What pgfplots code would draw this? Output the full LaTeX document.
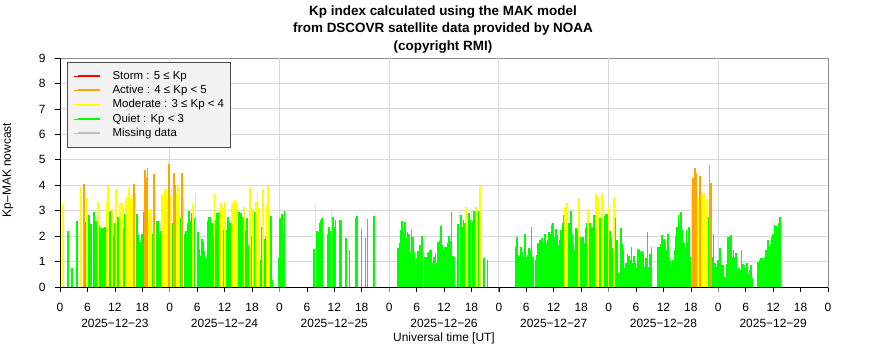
\documentclass[border=0pt]{standalone}
\usepackage{fontspec}
\setmainfont{Liberation Sans}
\usepackage{pgfplots}
\usepackage{pgfplotstable}
\pgfplotsset{compat=1.18}
\definecolor{kgreen}{RGB}{0,255,0}
\definecolor{kyellow}{RGB}{255,255,0}
\definecolor{korange}{RGB}{255,165,0}
\definecolor{kred}{RGB}{255,0,0}
\definecolor{kgray}{RGB}{190,190,190}
\definecolor{gridc}{RGB}{217,217,217}
\definecolor{boxc}{RGB}{140,140,140}
\definecolor{legfill}{RGB}{242,242,242}
\pgfplotstableread{
h v
0.66 3.25
1.75 2.2
2.6 0.75
3.7 2.6
4.65 3.92
5.3 4.05
5.6 2.55
5.85 3.5
6.3 2.83
6.86 2.48
7.45 2.95
7.88 2.6
8.32 3.34
8.61 2.4
9.05 2.3
9.49 2.3
9.78 2.35
10.22 3.34
10.51 3.97
10.8 2.96
11.09 2.98
11.39 3.05
11.68 2.0
11.97 2.5
12.26 3.84
12.7 2.76
13.14 3.3
13.58 3.3
13.87 2.3
14.16 2.87
14.45 3.45
14.74 3.55
15.04 3.88
15.33 3.45
15.62 3.3
15.91 3.6
16.2 4.05
16.5 3.7
16.79 2.87
17.08 2.04
17.37 1.78
17.66 1.78
17.96 2.1
18.25 2.95
18.54 4.6
18.83 4.34
19.12 4.67
19.42 3.02
19.71 3.05
20.0 3.02
20.29 2.1
20.58 4.44
20.88 3.68
21.17 2.6
21.46 2.6
21.75 1.95
22.04 2.2
22.34 3.66
22.63 3.3
22.92 3.84
23.21 3.8
23.5 3.3
23.78 4.84
24.07 3.6
24.37 3.9
24.66 2.5
24.96 4.5
25.25 4.02
25.54 3.7
25.84 3.95
26.13 3.02
26.43 2.7
26.72 4.5
27.01 3.5
27.31 2.1
27.6 2.2
27.9 2.5
28.19 2.98
28.49 2.6
28.78 2.9
29.07 3.26
29.37 2.7
29.66 3.68
30.1 2.17
30.4 1.48
30.69 1.22
30.99 1.9
31.28 1.78
31.57 1.4
32.01 1.13
32.31 2.6
32.6 2.74
32.9 2.77
33.19 2.5
33.49 2.0
33.78 3.64
34.07 2.65
34.37 2.92
34.66 2.96
34.96 3.1
35.25 3.3
35.54 3.15
35.84 2.24
36.13 3.36
36.43 2.24
36.72 2.77
37.01 2.57
37.31 2.5
37.6 3.22
37.9 3.3
38.19 3.4
38.49 3.36
38.78 3.34
39.07 2.96
39.37 2.9
39.66 2.9
39.96 2.77
40.25 3.13
40.54 2.24
40.84 2.7
41.13 1.65
41.57 3.88
41.87 2.0
42.16 3.05
42.46 2.96
42.9 3.36
43.19 3.75
43.49 3.1
43.78 1.06
44.07 2.34
44.37 3.84
44.66 1.9
44.96 1.95
45.25 3.22
45.54 3.97
45.84 3.15
46.13 2.8
46.43 0.27
47.9 1.13
48.2 2.7
48.5 2.87
48.8 2.04
49.1 2.98
55.6 1.48
55.88 3.26
56.18 2.2
56.47 2.17
56.76 2.53
57.05 2.63
57.34 2.7
58.51 2.08
58.8 2.37
59.09 2.2
59.39 3.05
59.68 2.77
59.97 2.37
60.26 2.63
61.28 2.63
61.58 2.6
62.6 1.91
63.33 1.45
64.64 2.7
64.93 2.79
65.96 2.27
66.83 1.91
67.27 2.66
68.73 2.79
73.97 1.52
74.26 1.72
74.55 2.24
74.85 2.6
75.14 2.18
75.43 2.57
75.72 1.91
76.01 2.18
76.31 2.1
76.6 1.39
76.89 2.24
77.18 1.95
77.47 1.39
77.77 0.93
78.06 1.13
78.35 1.43
78.64 1.65
78.93 1.65
79.23 2.0
79.81 1.17
80.1 1.17
80.39 1.35
80.69 1.37
80.98 1.45
81.27 1.45
81.56 0.93
81.85 1.17
82.15 1.35
82.44 0.93
82.73 1.78
83.02 1.82
83.31 2.4
83.61 1.65
83.9 1.45
84.19 1.56
84.48 1.56
84.77 1.72
85.07 2.0
85.36 1.82
85.65 2.96
85.94 1.22
86.23 1.17
87.11 2.48
87.4 3.03
87.69 2.83
87.99 2.37
88.28 2.63
88.57 2.53
88.86 3.13
89.15 3.03
89.45 2.92
89.74 2.63
90.03 3.05
90.32 2.6
90.61 2.98
90.91 3.18
91.2 3.13
91.49 2.98
91.9 3.97
92.75 1.13
93.5 1.06
99.62 1.59
99.91 1.98
100.21 1.26
100.5 1.19
100.8 1.59
101.09 1.39
101.39 1.19
101.68 2.08
101.98 1.19
102.27 1.26
102.57 1.52
102.86 1.45
103.16 2.37
103.45 1.19
104.04 1.06
104.34 1.26
104.63 1.72
104.93 1.85
105.23 1.78
105.52 1.91
105.82 1.72
106.11 2.1
106.41 1.72
106.7 1.85
107.0 2.18
107.29 2.08
107.59 2.44
107.88 2.5
108.18 1.98
108.47 2.27
108.77 2.04
109.06 1.65
109.36 1.85
109.65 2.24
109.95 2.53
110.24 2.83
110.54 3.13
110.83 3.32
111.13 1.85
111.42 2.5
111.72 2.98
112.01 2.1
112.31 1.72
112.61 1.45
112.9 2.31
113.2 2.24
113.49 3.45
113.79 1.98
114.08 1.91
114.38 1.98
114.67 1.72
114.97 2.31
115.26 2.5
115.56 3.05
115.85 2.5
116.15 2.24
116.44 2.37
116.74 2.83
117.03 2.7
117.33 3.66
117.62 3.55
117.92 2.57
118.21 2.7
118.51 3.68
118.8 3.4
119.1 2.79
119.39 2.87
119.69 2.87
120.0 3.22
120.29 2.2
120.59 1.91
120.88 1.52
121.18 3.48
121.47 2.7
121.76 1.85
122.06 0.43
122.35 0.54
122.65 2.31
122.94 1.69
123.24 1.45
123.53 0.73
123.82 0.93
124.12 1.3
124.41 1.22
124.71 1.06
125.0 1.59
125.29 0.93
125.59 1.22
125.88 0.93
126.18 0.73
126.47 1.48
126.76 1.45
127.06 1.39
127.35 1.43
127.65 1.3
127.94 0.8
128.24 1.13
128.53 2.18
128.82 0.77
129.12 1.3
129.41 1.59
130.88 1.59
131.18 1.59
131.47 1.69
131.76 2.04
132.06 1.87
132.35 1.78
132.65 1.45
132.94 2.08
133.24 1.19
133.53 1.06
133.82 0.73
134.12 1.06
134.41 1.45
134.71 2.0
135.0 2.37
135.29 2.83
135.59 2.57
135.88 2.96
136.18 2.24
136.47 1.72
136.76 1.45
137.06 2.24
137.35 1.72
137.65 2.34
137.94 1.19
138.24 3.94
138.53 4.27
138.82 4.67
139.12 4.5
139.41 3.81
139.71 3.49
140.0 4.36
140.29 3.75
140.59 3.68
140.88 3.7
141.18 3.16
141.47 3.45
141.76 2.77
142.06 4.8
142.35 4.08
142.65 1.19
142.94 2.1
143.24 0.93
143.53 0.8
143.82 1.06
144.07 1.06
144.37 1.52
144.66 0.86
144.96 0.86
145.25 0.27
145.54 0.4
145.84 0.9
146.13 1.98
146.43 2.0
146.72 2.04
147.01 1.19
147.31 1.45
147.6 1.19
147.9 1.35
148.19 0.54
148.49 0.73
148.78 0.67
149.07 1.45
149.37 0.9
149.66 0.86
149.96 0.73
150.25 0.93
150.54 0.51
150.84 0.67
151.13 0.86
151.43 0.34
152.75 1.0
153.04 1.06
153.34 1.13
153.63 1.13
153.93 1.06
154.22 1.17
154.51 1.45
154.81 1.85
155.1 1.59
155.4 1.69
155.69 1.98
155.99 2.08
156.28 2.44
156.57 2.4
156.87 2.27
157.16 2.53
157.46 2.77
}\kpdata
\begin{document}
\begin{tikzpicture}
\begin{axis}[
  name=ax,
  at={(60bp,73bp)}, anchor=south west,
  scale only axis, width=768bp, height=229bp,
  xmin=0, xmax=168, ymin=0, ymax=9,
  axis line style={draw=boxc, line width=0.8bp},
  xtick={0,6,...,168}, ytick={0,1,...,9},
  xticklabel={\pgfmathparse{int(mod(round(\tick),24))}\pgfmathresult},
  /pgf/number format/assume math mode=true,
  tick align=outside, major tick length=5bp,
  tick style={black, line width=0.7bp},
  xtick pos=bottom, ytick pos=left,
  ymajorgrids, grid style={gridc, line width=0.8bp},
  extra x ticks={24,48,72,96,120,144},
  extra x tick labels={},
  extra x tick style={grid=major, major tick length=5bp, tick style={boxc, line width=0.8bp}},
  ticklabel style={font=\fontsize{12}{12}\selectfont},
  xticklabel style={anchor=center, yshift=-15bp},
  yticklabel style={anchor=east, xshift=-6bp},
  legend style={at={(axis description cs:0,1)}, anchor=north west,
    xshift=7bp, yshift=-4bp, fill=legfill, draw=black!70, line width=0.6bp,
    font=\fontsize{11.5}{12}\selectfont, inner xsep=6bp, inner ysep=8bp,
    row sep=2.8bp, nodes={inner sep=0bp, text height=9bp, text depth=2.5bp},
    /tikz/every odd column/.append style={column sep=11.4bp}},
  legend cell align=left,
  legend image code/.code={\path (-4.6bp,0bp) -- (22bp,0bp); \draw[#1, line width=2bp] (0bp,0bp) -- (22bp,0bp);},
]
\addlegendimage{kred}\addlegendentry{Storm : 5 ≤ Kp}
\addlegendimage{korange}\addlegendentry{Active : 4 ≤ Kp < 5}
\addlegendimage{kyellow}\addlegendentry{Moderate : 3 ≤ Kp < 4}
\addlegendimage{kgreen}\addlegendentry{Quiet : Kp < 3}
\addlegendimage{kgray}\addlegendentry{Missing data}
\addplot[ycomb, draw=kgreen, line width=1.8bp, mark=none, forget plot, restrict y to domain=0:2.999] table[x=h, y=v] {\kpdata};
\addplot[ycomb, draw=kyellow, line width=1.8bp, mark=none, forget plot, restrict y to domain=3:3.999] table[x=h, y=v] {\kpdata};
\addplot[ycomb, draw=korange, line width=1.8bp, mark=none, forget plot, restrict y to domain=4:4.999] table[x=h, y=v] {\kpdata};
\end{axis}
\draw[black, line width=0.9bp] (ax.north west) -- (ax.south west) -- (ax.south east);
\begin{scope}[every node/.style={font=\fontsize{12}{12}\selectfont}]
\node at (114.86bp,37bp) {2025−12−23};
\node at (224.57bp,37bp) {2025−12−24};
\node at (334.29bp,37bp) {2025−12−25};
\node at (444bp,37bp) {2025−12−26};
\node at (553.71bp,37bp) {2025−12−27};
\node at (663.43bp,37bp) {2025−12−28};
\node at (773.14bp,37bp) {2025−12−29};
\node at (444bp,22bp) {Universal time [UT]};
\node[rotate=90] at (8bp,190bp) {Kp–MAK nowcast};
\end{scope}
\node[align=center, font=\bfseries\fontsize{13.5}{17.5}\selectfont] at (443bp,330.5bp) {Kp index calculated using the MAK model\\from DSCOVR satellite data provided by NOAA\\(copyright RMI)};
\pgfresetboundingbox
\path (0bp,0bp) rectangle (886bp,360bp);
\end{tikzpicture}
\end{document}
